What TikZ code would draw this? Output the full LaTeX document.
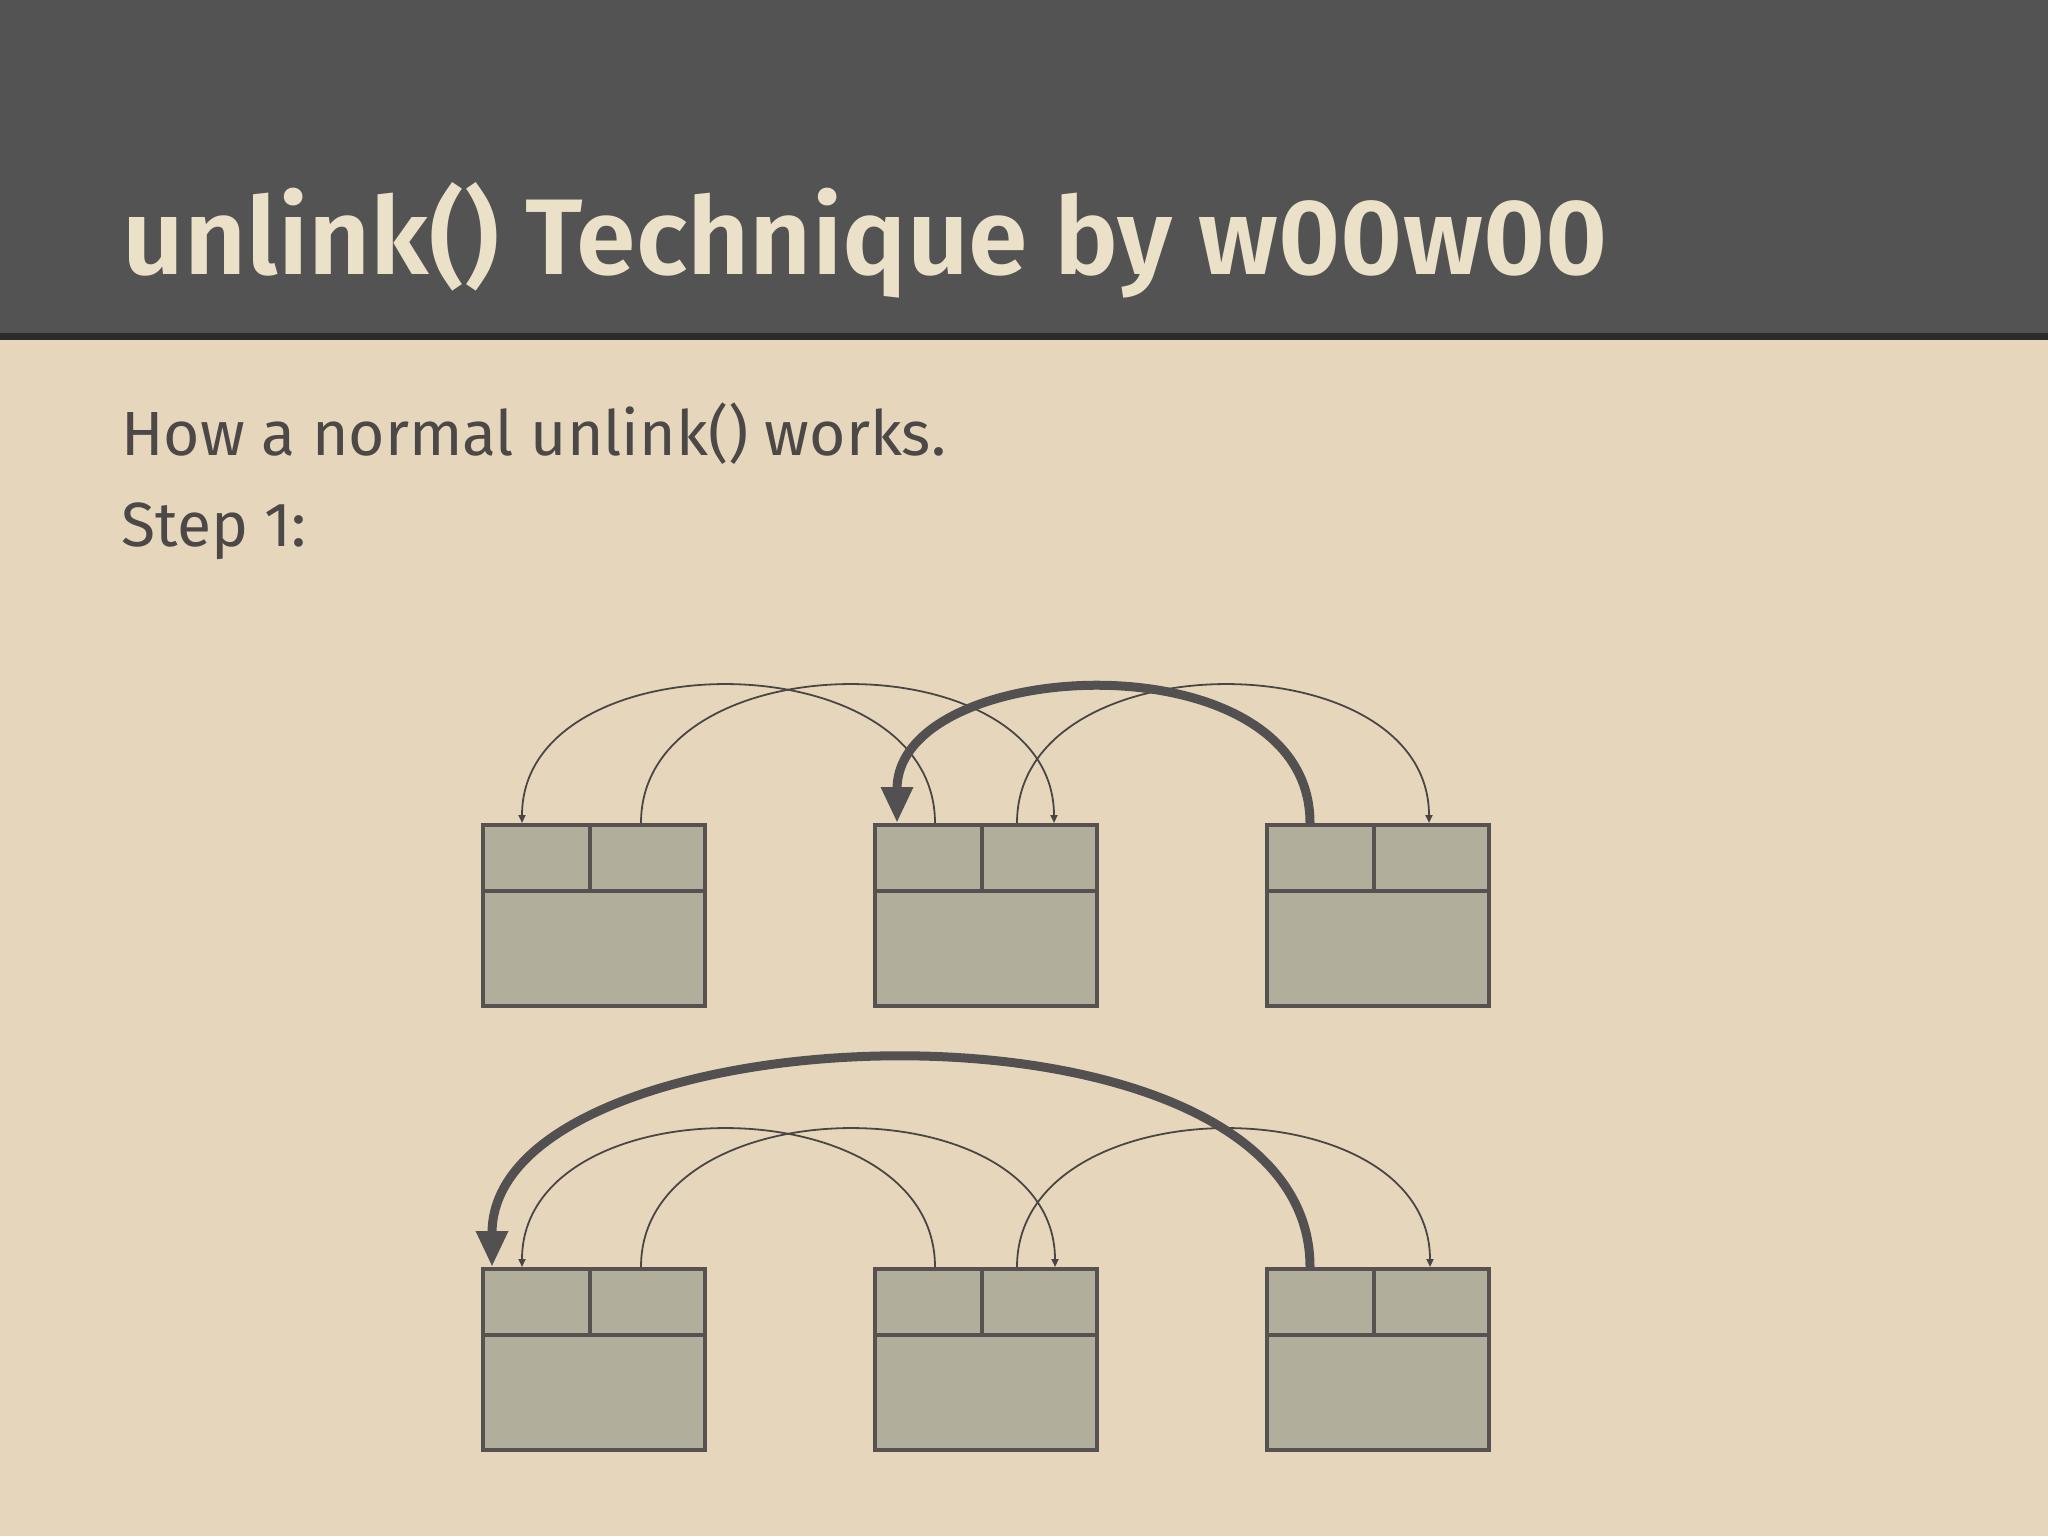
\documentclass[tikz,border=0pt]{standalone}
\usepackage{fontspec}
\setmainfont{Fira Sans}
\newfontfamily\titlefont{Fira Sans SemiBold}
\usetikzlibrary{arrows.meta}
\definecolor{bgc}{HTML}{E6D7BC}
\definecolor{bandc}{HTML}{535353}
\definecolor{linec}{HTML}{2C2B2B}
\definecolor{titlec}{HTML}{EBE0C8}
\definecolor{textc}{HTML}{4D4848}
\definecolor{boxfill}{HTML}{B2AE9C}
\definecolor{boxline}{HTML}{575151}
\definecolor{arrc}{HTML}{4B4646}
\definecolor{thickc}{HTML}{525050}
\tikzset{
  chunk/.style={draw=boxline, fill=boxfill, line width=1.75pt, inner sep=0pt,
    minimum width=111pt, minimum height=90.5pt, anchor=north west},
  divider/.style={draw=boxline, line width=1.75pt},
  thinptr/.style={draw=arrc, line width=0.9pt, -{Triangle[length=4pt,width=3.5pt]}},
  thickptr/.style={draw=thickc, line width=4.5pt, -{Triangle[length=18pt,width=15pt]}},
}
\begin{document}
\begin{tikzpicture}[x=0.5pt,y=-0.5pt]
\useasboundingbox (0,0) rectangle (2048,1536);
\fill[bgc] (0,0) rectangle (2048,1536);
\fill[bandc] (0,0) rectangle (2048,334);
\fill[linec] (0,333) rectangle (2048,340);
\node[anchor=base west, inner sep=0pt, text=titlec, font=\titlefont\fontsize{53.8}{60}\selectfont] (title) at (122,274) {unlink() Technique by w00w00};
\node[anchor=base west, inner sep=0pt, text=textc, font=\fontsize{31.2}{38}\selectfont] (sub) at (121,455) {How a normal unlink() works.};
\node[anchor=base west, inner sep=0pt, text=textc, font=\fontsize{31.2}{38}\selectfont] (step) at (121,546) {Step 1:};
% top row
\node[chunk] (a1) at (481,823) {};
\node[chunk] (a2) at (873,823) {};
\node[chunk] (a3) at (1265,823) {};
% bottom row
\node[chunk] (b1) at (481,1267) {};
\node[chunk] (b2) at (873,1267) {};
\node[chunk] (b3) at (1265,1267) {};
% dividers
\foreach \x in {481,873,1265}{
  \draw[divider] (\x,891) -- (\x+222,891);
  \draw[divider] (\x+109,823) -- (\x+109,891);
  \draw[divider] (\x,1335) -- (\x+222,1335);
  \draw[divider] (\x+109,1267) -- (\x+109,1335);
}
% ports, top row
\coordinate (a1in) at (522,823);
\coordinate (a1out) at (641,823);
\coordinate (a2tip) at (897,823);
\coordinate (a2l) at (935,823);
\coordinate (a2r) at (1017,823);
\coordinate (a2in) at (1054,823);
\coordinate (a3out) at (1310,823);
\coordinate (a3in) at (1429,823);
% ports, bottom row
\coordinate (b1tip) at (492,1267);
\coordinate (b1in) at (522,1267);
\coordinate (b1out) at (641,1267);
\coordinate (b2l) at (935,1267);
\coordinate (b2r) at (1017,1267);
\coordinate (b2in) at (1055,1267);
\coordinate (b3out) at (1310,1267);
\coordinate (b3in) at (1430,1267);
% top row pointers
\draw[thinptr] (a2l) .. controls ([yshift=92pt]a2l) and ([yshift=92pt]a1in) .. (a1in);
\draw[thinptr] (a1out) .. controls ([yshift=92pt]a1out) and ([yshift=92pt]a2in) .. (a2in);
\draw[thinptr] (a2r) .. controls ([yshift=92pt]a2r) and ([yshift=92pt]a3in) .. (a3in);
\draw[thickptr] (a3out) .. controls ([yshift=94pt]a3out) and ([yshift=84pt]a2tip) .. (a2tip);
% bottom row pointers
\draw[thinptr] (b2l) .. controls ([yshift=92pt]b2l) and ([yshift=92pt]b1in) .. (b1in);
\draw[thinptr] (b1out) .. controls ([yshift=92pt]b1out) and ([yshift=92pt]b2in) .. (b2in);
\draw[thinptr] (b2r) .. controls ([yshift=92pt]b2r) and ([yshift=92pt]b3in) .. (b3in);
\draw[thickptr] (b3out) .. controls ([yshift=146pt]b3out) and ([yshift=130pt]b1tip) .. (b1tip);
\end{tikzpicture}
\end{document}
